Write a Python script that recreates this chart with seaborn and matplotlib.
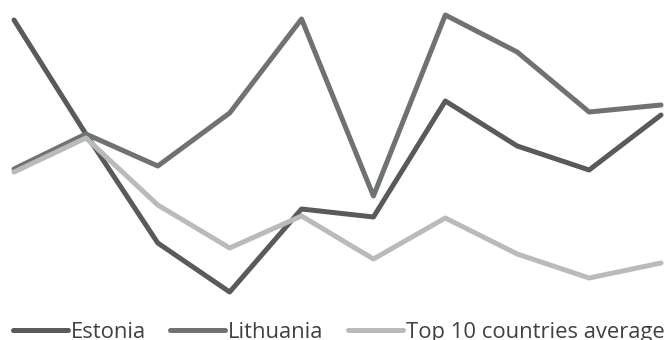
import matplotlib
matplotlib.use("Agg")
import matplotlib.pyplot as plt
import pandas as pd
import seaborn as sns

# Series values over ten periods
periods = list(range(1, 11))
estonia = [280, 166, 57, 8, 91, 83, 199, 154, 130, 185]
lithuania = [131, 166, 134, 187, 281, 104, 285, 248, 188, 195]
top10_avg = [128, 162, 95, 52, 84, 41, 82, 46, 22, 37]

series_names = ["Estonia", "Lithuania", "Top 10 countries average"]
series_colors = ["#595b5b", "#6f7272", "#b9bbbb"]

df = pd.concat([
    pd.DataFrame({"period": periods, "value": vals, "series": name})
    for name, vals in zip(series_names, [estonia, lithuania, top10_avg])
], ignore_index=True)

sns.set_theme(style="white")
plt.rcParams["font.family"] = ["Open Sans", "DejaVu Sans"]

fig = plt.figure(figsize=(6.71, 3.40), dpi=100)
ax = fig.add_axes([0, 0, 1, 1])

sns.lineplot(
    data=df, x="period", y="value", hue="series",
    hue_order=series_names, palette=series_colors,
    linewidth=3.6, ax=ax, legend=False,
    solid_capstyle="round", solid_joinstyle="round",
)

px = (661 - 14) / 9
ax.set_xlim(1 - 14 / px, 10 + 10 / px)
ax.set_ylim(-40, 300)
ax.set_axis_off()

handles = [plt.Line2D([], [], color=c, linewidth=3.6, solid_capstyle="round")
           for c in series_colors]
fig.legend(
    handles, series_names, loc="lower left",
    bbox_to_anchor=(13 / 671, -3 / 340), bbox_transform=fig.transFigure,
    ncol=3, frameon=False, fontsize=15.8, labelcolor="#404040",
    handlelength=2.5, handletextpad=0.14, columnspacing=1.1,
    borderpad=0, borderaxespad=0,
)

fig.savefig("out.png", dpi=100, facecolor="white")
